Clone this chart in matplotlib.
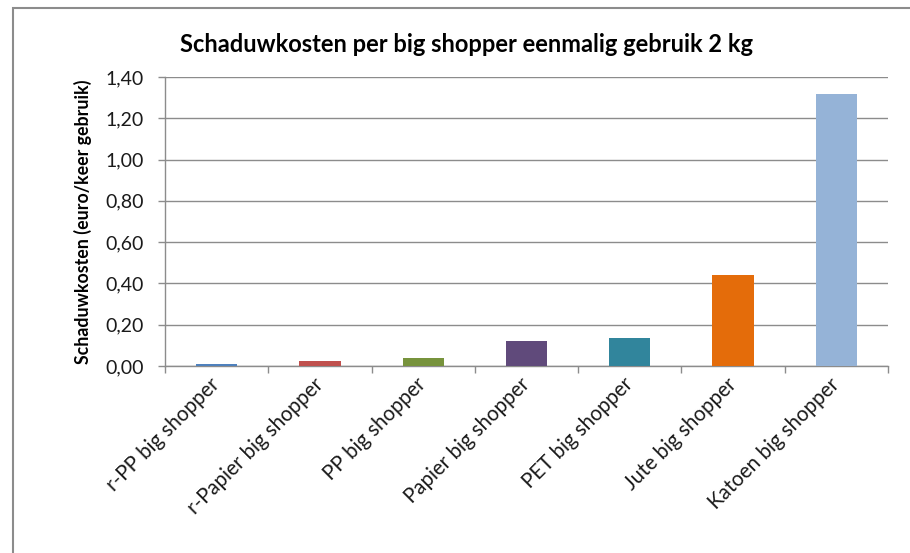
import matplotlib
matplotlib.use("Agg")
import matplotlib.pyplot as plt
from matplotlib.patches import Rectangle
from matplotlib.ticker import FuncFormatter, FixedLocator
import numpy as np

categories = ["r-PP big shopper", "r-Papier big shopper", "PP big shopper",
              "Papier big shopper", "PET big shopper", "Jute big shopper",
              "Katoen big shopper"]
values = [0.01, 0.026, 0.04, 0.121, 0.137, 0.44, 1.32]
colors = ["#4F81BD", "#C0504D", "#77933C", "#604A7B", "#31859C", "#E46C0A", "#95B3D7"]
title = "Schaduwkosten per big shopper eenmalig gebruik 2 kg"
ylabel = "Schaduwkosten (euro/keer gebruik)"

plt.rcParams['font.family'] = ['Lato', 'DejaVu Sans']

fig = plt.figure(figsize=(9.10, 5.53), dpi=100)
ax = fig.add_axes([165/910, 1-366/553, (888-165)/910, (366-77)/553])

x = np.arange(len(categories))
ax.bar(x, values, width=0.4, color=colors, zorder=3)
ax.set_xlim(-0.5, len(categories)-0.5)
ax.set_ylim(0, 1.4)
ax.set_yticks(np.arange(0, 1.41, 0.2))
ax.yaxis.set_major_formatter(FuncFormatter(lambda v, p: f"{v:.2f}".replace(".", ",")))
ax.grid(axis='y', color='#8C8C8C', linewidth=1.0, zorder=0)
ax.set_axisbelow(True)

ax.set_xticks(x)
ax.set_xticklabels(categories, rotation=45, ha='right', va='center', rotation_mode='anchor',
                   fontsize=14.8, color='#1a1a1a')
ax.tick_params(axis='x', length=0, pad=11)
ax.xaxis.set_minor_locator(FixedLocator(np.arange(-0.5, len(categories), 1.0)))
ax.tick_params(axis='x', which='minor', length=5, color='#8C8C8C', width=1)
ax.tick_params(axis='y', length=5, color='#8C8C8C', width=1, labelsize=14, pad=10, labelcolor='#1a1a1a')

for s in ['top', 'right']:
    ax.spines[s].set_visible(False)
for s in ['left', 'bottom']:
    ax.spines[s].set_color('#8C8C8C')
    ax.spines[s].set_linewidth(1)

ax.set_ylabel(ylabel, fontsize=12.8, fontweight='bold', labelpad=10)
fig.text(467/910, 1-45/553, title, fontsize=17, fontweight='bold', ha='center', va='center')

fig.patches.append(Rectangle((13/910, -0.1), 1.2, 1-8/553+0.1, transform=fig.transFigure,
                             fill=False, edgecolor='#8C8C8C', linewidth=1.5))

fig.savefig("out.png", dpi=100)
